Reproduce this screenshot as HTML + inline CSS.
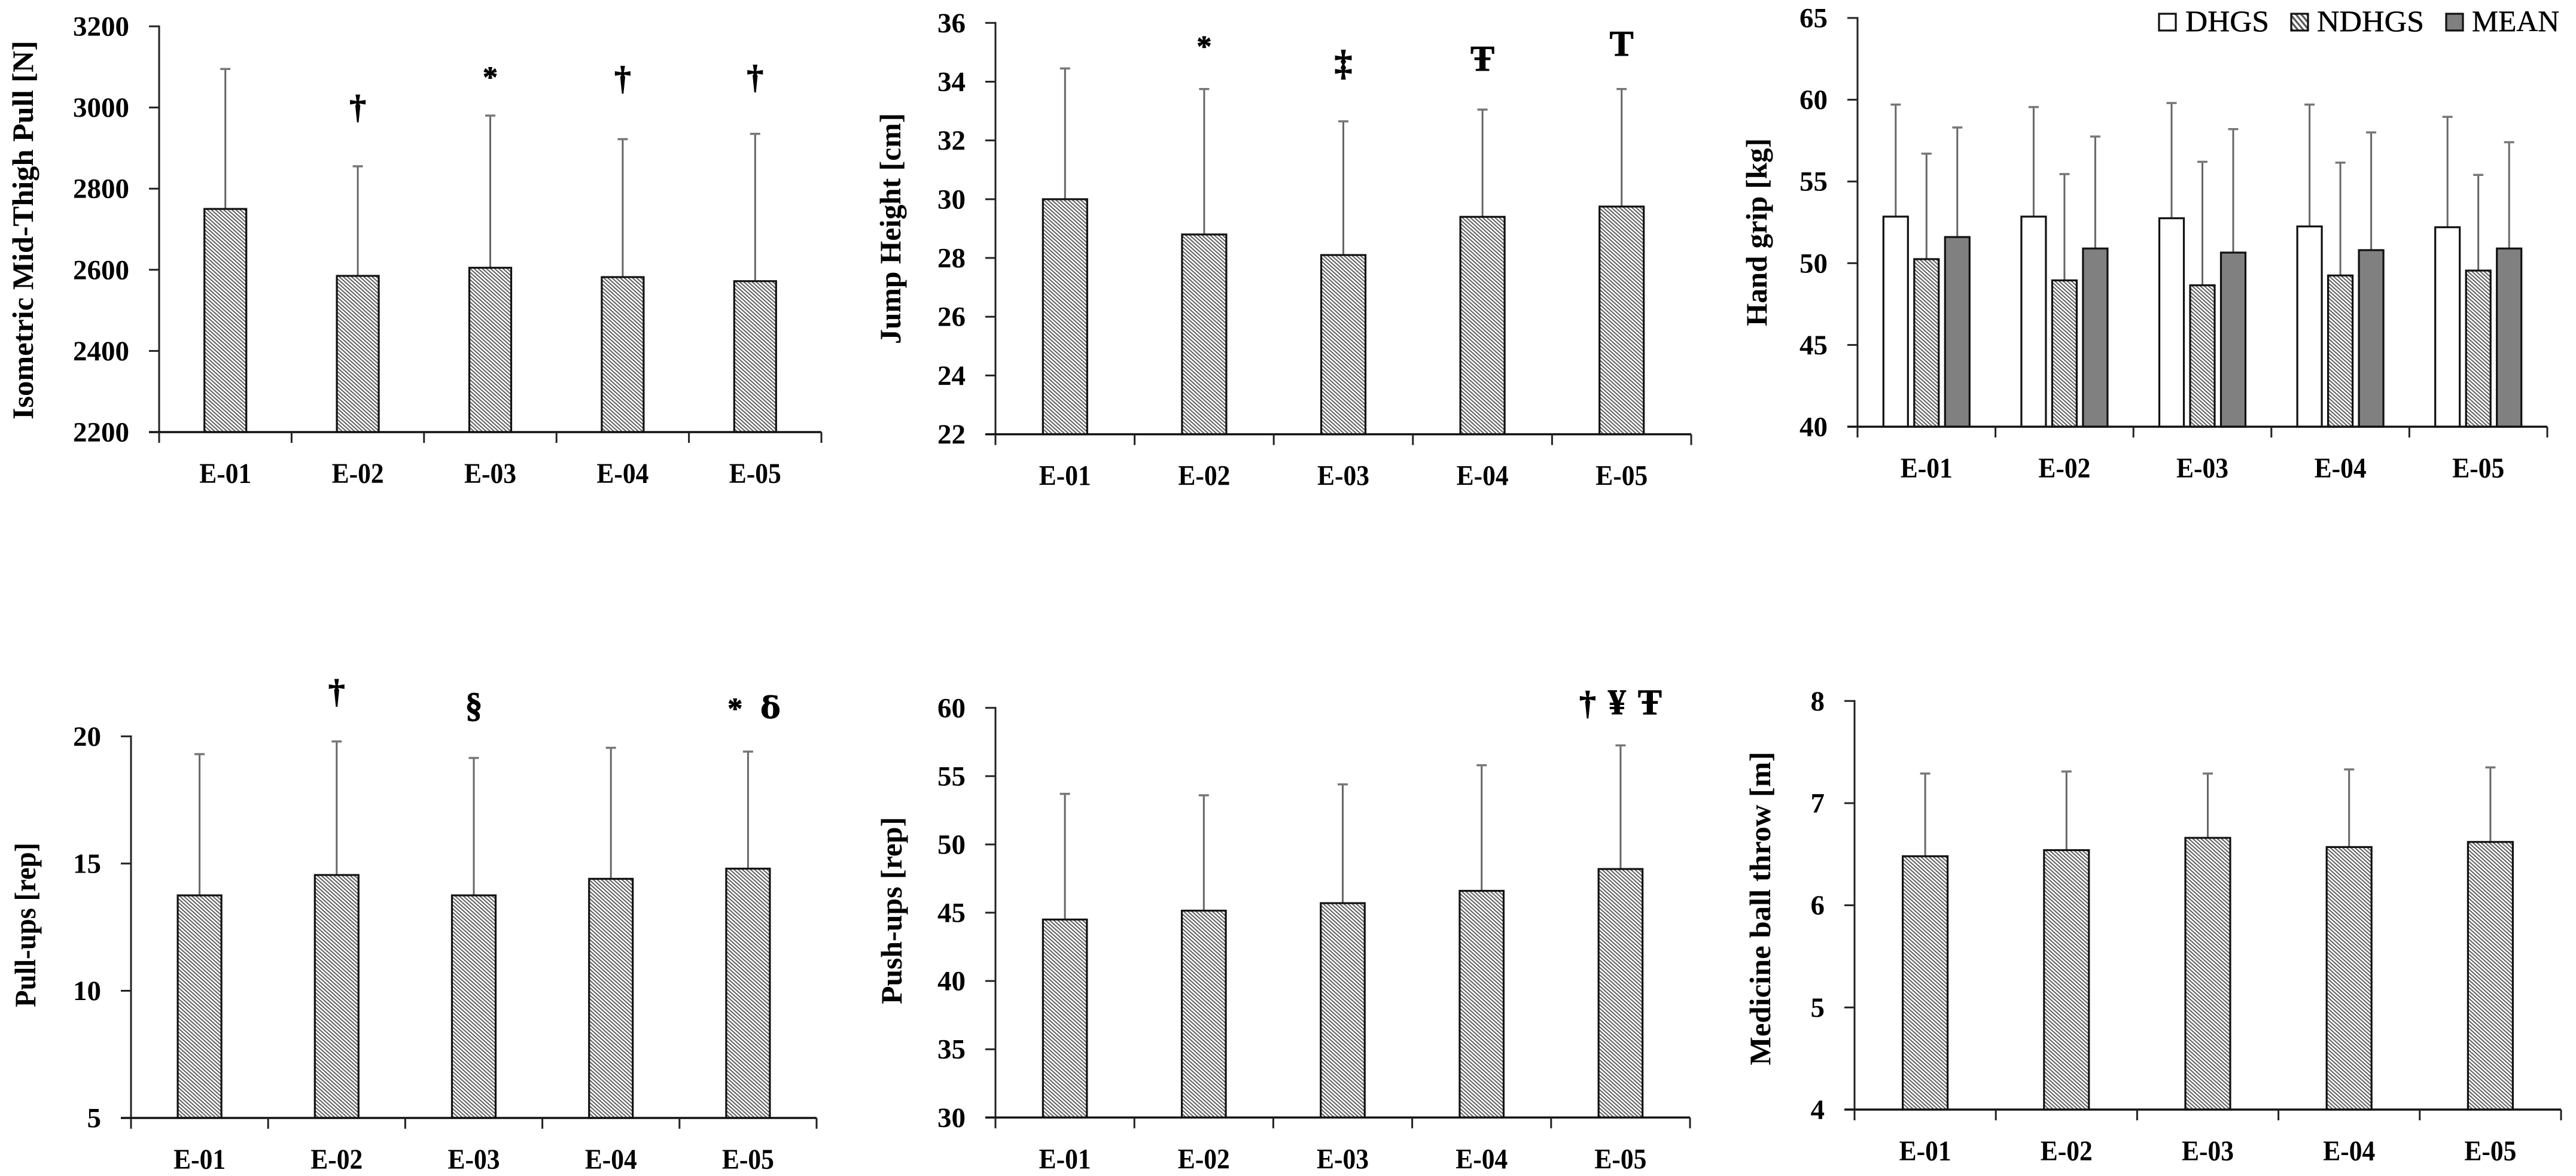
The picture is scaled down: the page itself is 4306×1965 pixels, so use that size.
<!DOCTYPE html>
<html lang="en">
<head>
<meta charset="utf-8">
<title>Performance test results across E-01 to E-05</title>
<style>
html,body{margin:0;padding:0;background:#fff;}
svg{display:block;}
text{font-family:"Liberation Serif","DejaVu Serif",serif;fill:#000;white-space:pre;}
</style>
</head>
<body>
<svg id="figure" xmlns="http://www.w3.org/2000/svg" width="4306" height="1965" viewBox="0 0 4306 1965">
<defs>
<pattern id="hatch" patternUnits="userSpaceOnUse" width="4.6" height="4.6" patternTransform="rotate(42)">
<rect width="4.6" height="4.6" fill="#ffffff"></rect>
<rect width="4.6" height="2" fill="#5e5e5e"></rect>
</pattern>
<pattern id="hatch-legend" patternUnits="userSpaceOnUse" width="7" height="7" patternTransform="rotate(50)">
<rect width="7" height="7" fill="#ffffff"></rect>
<rect width="7" height="3.2" fill="#555555"></rect>
</pattern>
</defs>
<rect x="0" y="0" width="4306" height="1965" fill="#ffffff"></rect>
</svg>
<script>
// ---------- data ----------
const categories = ['E-01', 'E-02', 'E-03', 'E-04', 'E-05'];

const imtpValues = [2750, 2585, 2605, 2582, 2572];
const imtpSD = [345, 270, 375, 340, 363];
const imtpTicks = [2200, 2400, 2600, 2800, 3000, 3200];
const imtpMarks = ['', '†', '*', '†', '†'];
const imtpMarkLevels = [null, 2994, 3072, 3065, 3068];

const jumpValues = [30, 28.8, 28.1, 29.4, 29.75];
const jumpSD = [4.45, 4.95, 4.55, 3.65, 4.0];
const jumpTicks = [22, 24, 26, 28, 30, 32, 34, 36];
const jumpMarks = ['', '*', '‡', 'Ŧ', 'T'];
const jumpMarkLevels = [null, 35.16, 34.63, 34.78, 35.29];

const gripSeriesNames = ['DHGS', 'NDHGS', 'MEAN'];
const gripDHGS = [52.85, 52.85, 52.75, 52.25, 52.2];
const gripDHGSSD = [6.85, 6.7, 7.05, 7.45, 6.75];
const gripNDHGS = [50.25, 48.95, 48.65, 49.25, 49.55];
const gripNDHGSSD = [6.45, 6.5, 7.55, 6.9, 5.85];
const gripMEAN = [51.6, 50.9, 50.65, 50.8, 50.9];
const gripMEANSD = [6.7, 6.85, 7.55, 7.2, 6.5];
const gripTicks = [40, 45, 50, 55, 60, 65];

const pullValues = [13.75, 14.55, 13.75, 14.4, 14.8];
const pullSD = [5.55, 5.25, 5.4, 5.15, 4.6];
const pullTicks = [5, 10, 15, 20];
const pullMarks = ['', '†', '§', '', '  *   ẟ'];
const pullMarkLevels = [null, 21.66, 21.25, null, 21.05];

const pushValues = [44.5, 45.15, 45.7, 46.6, 48.2];
const pushSD = [9.2, 8.45, 8.7, 9.2, 9.05];
const pushTicks = [30, 35, 40, 45, 50, 55, 60];
const pushMarks = ['', '', '', '', '†  ¥  Ŧ'];
const pushMarkLevels = [null, null, null, null, 60.4];

const ballValues = [6.48, 6.54, 6.66, 6.57, 6.62];
const ballSD = [0.81, 0.77, 0.63, 0.76, 0.73];
const ballTicks = [4, 5, 6, 7, 8];

// ---------- drawing ----------
const svg = document.getElementById('figure');
const NS = 'http://www.w3.org/2000/svg';

function make(parent, tag, attrs, txt) {
  const el = document.createElementNS(NS, tag);
  for (const k in attrs) el.setAttribute(k, attrs[k]);
  if (txt !== undefined) el.textContent = txt;
  parent.appendChild(el);
  return el;
}

function glyphSize(ch) {
  if (ch === ' ') return 40;
  if ('T\u0166\u00A5\u2021'.indexOf(ch) >= 0) return 60;
  if (ch === '\u00A7') return 58;
  if (ch === '\u2020') return 56;
  if (ch === '\u1E9F') return 50;
  return 50;
}

function drawBar(g, x, w, y, base, fill) {
  const el = make(g, 'rect', {x: x - w / 2, y: y, width: w, height: base - y, fill: fill, stroke: '#111', 'stroke-width': 3.2});
  
  
}

function drawError(g, x, y0, y1) {
  const stem = make(g, 'line', {x1: x, x2: x, y1: y0, y2: y1, stroke: '#666', 'stroke-width': 3});
  
  
  const cap = make(g, 'line', {x1: x - 8.5, x2: x + 8.5, y1: y1, y2: y1, stroke: '#777', 'stroke-width': 3.5});
  
  
}

function drawChart(c) {
  const g = make(svg, 'g', {});
  
  

  const min = c.ticks[0];
  const max = c.ticks[c.ticks.length - 1];
  const yScale = v => c.bottom - (v - min) / (max - min) * (c.bottom - c.top);
  const band = (c.right - c.left) / categories.length;
  const xScale = i => c.left + band * (i + 0.5);

  // series
  c.series.forEach((s, si) => {
    categories.forEach((cat, i) => {
      const cx = xScale(i) + (si - (c.series.length - 1) / 2) * c.barStep;
      drawError(g, cx, yScale(s.values[i]), yScale(s.values[i] + s.sd[i]));
      drawBar(g, cx, c.barWidth, yScale(s.values[i]), c.bottom, s.fill);
    });
  });

  // y axis
  const yAxis = make(g, 'line', {x1: c.left, x2: c.left, y1: c.top - 1.5, y2: c.bottom, stroke: '#222', 'stroke-width': 3});
  
  
  c.ticks.forEach(t => {
    const y = yScale(t);
    const tick = make(g, 'line', {x1: c.left - 17, x2: c.left, y1: y, y2: y, stroke: '#222', 'stroke-width': 3});
    
    
    const label = make(g, 'text', {x: c.left - 50, y: y + 15.5, 'text-anchor': 'end', 'font-size': 47, 'font-weight': 'bold'}, String(t));
    
    
  });

  // x axis
  const xAxis = make(g, 'line', {x1: c.left - 17, x2: c.right, y1: c.bottom, y2: c.bottom, stroke: '#111', 'stroke-width': 3.5});
  
  
  for (let i = 0; i <= categories.length; i++) {
    const x = c.left + band * i;
    const tick = make(g, 'line', {x1: x, x2: x, y1: c.bottom, y2: c.bottom + 18, stroke: '#222', 'stroke-width': 3});
    
    
  }
  categories.forEach((cat, i) => {
    const label = make(g, 'text', {x: xScale(i), y: c.bottom + 85, 'text-anchor': 'middle', 'font-size': 48, 'font-weight': 'bold', textLength: 87, lengthAdjust: 'spacingAndGlyphs'}, cat);
    
    
  });

  // y title
  const midY = (c.titleTop + c.titleBottom) / 2;
  const title = make(g, 'text', {
    x: 0, y: 0, 'text-anchor': 'middle', 'font-size': 50, 'font-weight': 'bold',
    textLength: c.titleBottom - c.titleTop, lengthAdjust: 'spacingAndGlyphs',
    transform: 'translate(' + (c.titleX + 15) + ',' + midY + ') rotate(-90)'
  }, c.title);
  
  

  // significance marks
  if (c.marks) {
    c.marks.forEach((m, i) => {
      if (!m) return;
      const chars = Array.from(m);
      const biggest = Math.max.apply(null, chars.map(glyphSize));
      const mark = make(g, 'text', {x: xScale(i), y: yScale(c.markLevels[i]) + (biggest >= 58 ? 20 : 14), 'text-anchor': 'middle', 'font-weight': 'bold', stroke: '#000', 'stroke-width': 1});
      
      
      chars.forEach(ch => {
        make(mark, 'tspan', {'font-size': glyphSize(ch)}, ch);
      });
    });
  }
}

drawChart({
  name: 'isometric-mid-thigh-pull-chart', title: 'Isometric Mid-Thigh Pull [N]',
  left: 266, right: 1373, top: 44, bottom: 722, barWidth: 70, barStep: 0,
  titleX: 40, titleTop: 68, titleBottom: 701, ticks: imtpTicks,
  series: [{values: imtpValues, sd: imtpSD, fill: 'url(#hatch)'}],
  marks: imtpMarks, markLevels: imtpMarkLevels
});
drawChart({
  name: 'jump-height-chart', title: 'Jump Height [cm]',
  left: 1664, right: 2827, top: 38.3, bottom: 725.6, barWidth: 74, barStep: 0,
  titleX: 1490, titleTop: 189, titleBottom: 575, ticks: jumpTicks,
  series: [{values: jumpValues, sd: jumpSD, fill: 'url(#hatch)'}],
  marks: jumpMarks, markLevels: jumpMarkLevels
});
drawChart({
  name: 'hand-grip-chart', title: 'Hand grip [kg]',
  left: 3105, right: 4258, top: 30, bottom: 713, barWidth: 41, barStep: 51.5,
  titleX: 2938, titleTop: 231, titleBottom: 545, ticks: gripTicks,
  series: [
    {values: gripDHGS, sd: gripDHGSSD, fill: '#ffffff'},
    {values: gripNDHGS, sd: gripNDHGSSD, fill: 'url(#hatch)'},
    {values: gripMEAN, sd: gripMEANSD, fill: '#808080'}
  ]
});
drawChart({
  name: 'pull-ups-chart', title: 'Pull-ups [rep]',
  left: 219, right: 1365, top: 1230.4, bottom: 1868, barWidth: 73, barStep: 0,
  titleX: 44, titleTop: 1408, titleBottom: 1683, ticks: pullTicks,
  series: [{values: pullValues, sd: pullSD, fill: 'url(#hatch)'}],
  marks: pullMarks, markLevels: pullMarkLevels
});
drawChart({
  name: 'push-ups-chart', title: 'Push-ups [rep]',
  left: 1664, right: 2825, top: 1182.8, bottom: 1867.3, barWidth: 73.5, barStep: 0,
  titleX: 1492, titleTop: 1365, titleBottom: 1678, ticks: pushTicks,
  series: [{values: pushValues, sd: pushSD, fill: 'url(#hatch)'}],
  marks: pushMarks, markLevels: pushMarkLevels
});
drawChart({
  name: 'medicine-ball-throw-chart', title: 'Medicine ball throw [m]',
  left: 3100, right: 4281, top: 1171.3, bottom: 1854, barWidth: 75, barStep: 0,
  titleX: 2944, titleTop: 1256, titleBottom: 1780, ticks: ballTicks,
  series: [{values: ballValues, sd: ballSD, fill: 'url(#hatch)'}]
});

// ---------- legend ----------
const legend = make(svg, 'g', {});


const legendFills = ['#ffffff', 'url(#hatch-legend)', '#808080'];
const legendSwatchX = [3609, 3830, 4089];
const legendTextX = [3653, 3873, 4132];
const legendTextW = [140, 179, 146];
gripSeriesNames.forEach((n, i) => {
  const sw = make(legend, 'rect', {x: legendSwatchX[i], y: 23, width: 28, height: 28, fill: legendFills[i], stroke: '#111', 'stroke-width': 3.2});
  
  
  const t = make(legend, 'text', {x: legendTextX[i], y: 52, 'font-size': 50, textLength: legendTextW[i], lengthAdjust: 'spacingAndGlyphs', stroke: '#000', 'stroke-width': 0.5}, n);
  
  
});
</script>
</body>
</html>
